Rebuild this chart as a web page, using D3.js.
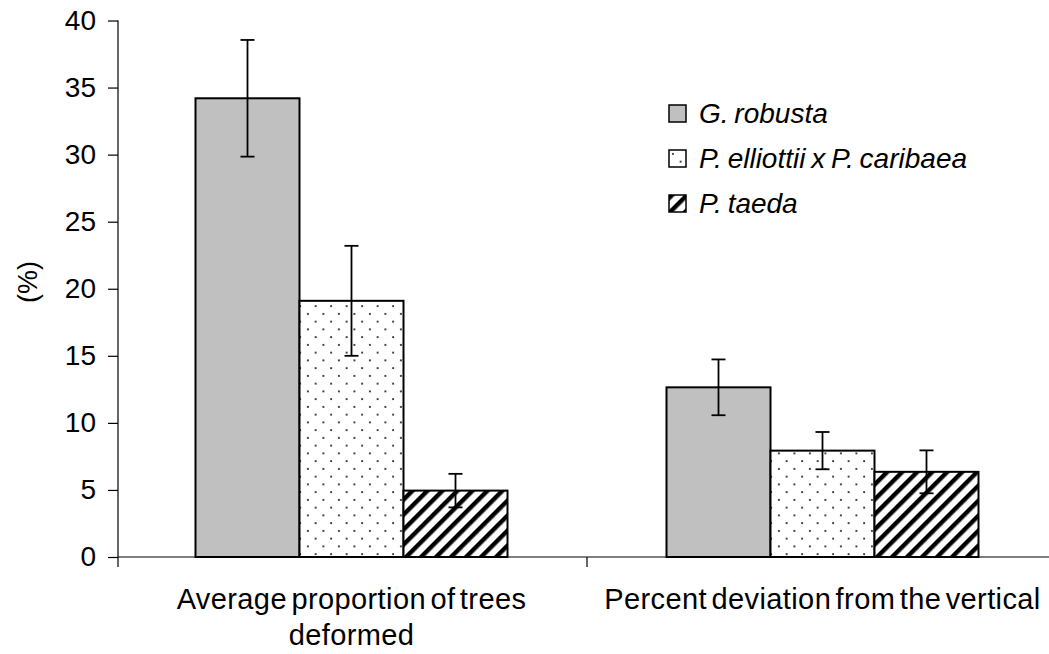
<!DOCTYPE html>
<html>
<head>
<meta charset="utf-8">
<script src="https://cdn.jsdelivr.net/npm/d3@7"></script>
<style>
  body { margin: 0; background: #fff; }
  text { font-family: "Liberation Sans", Arial, sans-serif; fill: #000; }
</style>
</head>
<body>
<div id="chart"></div>
<script>
// data
var categories = ["Average proportion of trees deformed", "Percent deviation from the vertical"];
var species = ["G. robusta", "P. elliottii x P. caribaea", "P. taeda"];
var means = [
  [34.2, 19.1, 4.95],
  [12.65, 7.93, 6.35]
];
var errors = [
  [4.35, 4.1, 1.25],
  [2.08, 1.39, 1.6]
];
var yTicks = [0, 5, 10, 15, 20, 25, 30, 35, 40];

var svgWidth = 1049;
var svgHeight = 654;

var svg = d3.select("#chart")
  .append("svg")
  .attr("width", svgWidth)
  .attr("height", svgHeight);

// patterns
var defs = svg.append("defs");
var dots = defs.append("pattern")
  .attr("id", "dots")
  .attr("patternUnits", "userSpaceOnUse")
  .attr("width", 15.5)
  .attr("height", 15.5);
dots.append("rect").attr("width", 15.5).attr("height", 15.5).attr("fill", "#fff");
dots.append("rect").attr("x", 3).attr("y", 3).attr("width", 1.8).attr("height", 1.8).attr("fill", "#222");
dots.append("rect").attr("x", 10.75).attr("y", 10.75).attr("width", 1.8).attr("height", 1.8).attr("fill", "#222");

var hatch = defs.append("pattern")
  .attr("id", "hatch")
  .attr("patternUnits", "userSpaceOnUse")
  .attr("width", 10.6)
  .attr("height", 10.6)
  .attr("patternTransform", "rotate(45)");
hatch.append("rect").attr("width", 10.6).attr("height", 10.6).attr("fill", "#fff");
hatch.append("rect").attr("width", 4.4).attr("height", 10.6).attr("fill", "#000");

var fills = ["#c0c0c0", "url(#dots)", "url(#hatch)"];

// scales
var x0 = d3.scaleBand()
  .domain(categories)
  .range([116, 1058]);

var barWidth = 104;
var x1 = d3.scaleBand()
  .domain(species)
  .range([0, barWidth * species.length]);

var y = d3.scaleLinear()
  .domain([0, 40])
  .range([557, 20.5]);

// y axis
var yAxis = svg.append("g")
  .attr("transform", "translate(118,0)")
  .call(d3.axisLeft(y).tickValues(yTicks).tickSize(10).tickPadding(12).tickSizeOuter(0));
yAxis.select(".domain").attr("d", "M0," + y(40) + "V" + (y(0) + 10));
yAxis.selectAll("line").attr("stroke", "#000").attr("stroke-width", 1.2);
yAxis.select(".domain").attr("stroke", "#000").attr("stroke-width", 1.2);
yAxis.selectAll("text")
  .style("font-size", "28px")
  .style("font-family", "'Liberation Sans', Arial, sans-serif");

// x axis (ticks at category boundaries)
var xAxisG = svg.append("g").attr("transform", "translate(0," + y(0) + ")");
xAxisG.append("line")
  .attr("x1", 118).attr("x2", x0.range()[1])
  .attr("stroke", "#000").attr("stroke-width", 1.2);
xAxisG.selectAll(".xtick")
  .data(categories.slice(1))
  .join("line")
  .attr("x1", d => x0(d)).attr("x2", d => x0(d))
  .attr("y1", 0).attr("y2", 10)
  .attr("stroke", "#000").attr("stroke-width", 1.2);

// bars
var groups = svg.selectAll(".grp")
  .data(categories)
  .join("g")
  .attr("transform", d => `translate(${x0(d) + x0.bandwidth() / 2 - barWidth * 1.5},0)`);

groups.each(function(cat, ci) {
  var g = d3.select(this);
  var rows = species.map((s, si) => ({ s: s, si: si, v: means[ci][si], e: errors[ci][si] }));
  g.selectAll("rect")
    .data(rows)
    .join("rect")
    .attr("x", d => x1(d.s))
    .attr("y", d => y(d.v))
    .attr("width", x1.bandwidth())
    .attr("height", d => y(0) - y(d.v))
    .attr("fill", d => fills[d.si])
    .attr("stroke", "#000")
    .attr("stroke-width", 2);

  // error bars
  var eb = g.selectAll(".err")
    .data(rows)
    .join("g")
    .attr("transform", d => `translate(${x1(d.s) + x1.bandwidth() / 2},0)`);
  eb.append("line")
    .attr("y1", d => y(d.v + d.e)).attr("y2", d => y(d.v - d.e))
    .attr("stroke", "#000").attr("stroke-width", 1.8);
  eb.append("line")
    .attr("x1", -7).attr("x2", 7)
    .attr("y1", d => y(d.v + d.e)).attr("y2", d => y(d.v + d.e))
    .attr("stroke", "#000").attr("stroke-width", 1.8);
  eb.append("line")
    .attr("x1", -7).attr("x2", 7)
    .attr("y1", d => y(d.v - d.e)).attr("y2", d => y(d.v - d.e))
    .attr("stroke", "#000").attr("stroke-width", 1.8);
});

// category labels
var catLines = [["Average proportion of trees", "deformed"], ["Percent deviation from the vertical"]];
categories.forEach(function(c, i) {
  catLines[i].forEach(function(line, li) {
    svg.append("text")
      .attr("x", x0(c) + x0.bandwidth() / 2)
      .attr("y", 609 + li * 36)
      .attr("text-anchor", "middle")
      .style("font-size", "29px")
      .style("letter-spacing", "0.4px")
      .style("word-spacing", "-4px")
      .text(line);
  });
});

// y axis title
svg.append("text")
  .attr("transform", "translate(37,282) rotate(-90)")
  .attr("text-anchor", "middle")
  .style("font-size", "27px")
  .text("(%)");

// legend
var legend = svg.append("g").attr("transform", "translate(669,105)");
var items = legend.selectAll("g")
  .data(species)
  .join("g")
  .attr("transform", (d, i) => `translate(0,${i * 45})`);
items.append("rect")
  .attr("width", 17).attr("height", 17)
  .attr("fill", (d, i) => fills[i])
  .attr("stroke", "#000").attr("stroke-width", 1.5);
items.append("text")
  .attr("x", 30)
  .attr("y", 18)
  .style("font-size", "28px")
  .style("font-style", "italic")
  .style("word-spacing", "-2px")
  .text(d => d);
</script>
</body>
</html>
